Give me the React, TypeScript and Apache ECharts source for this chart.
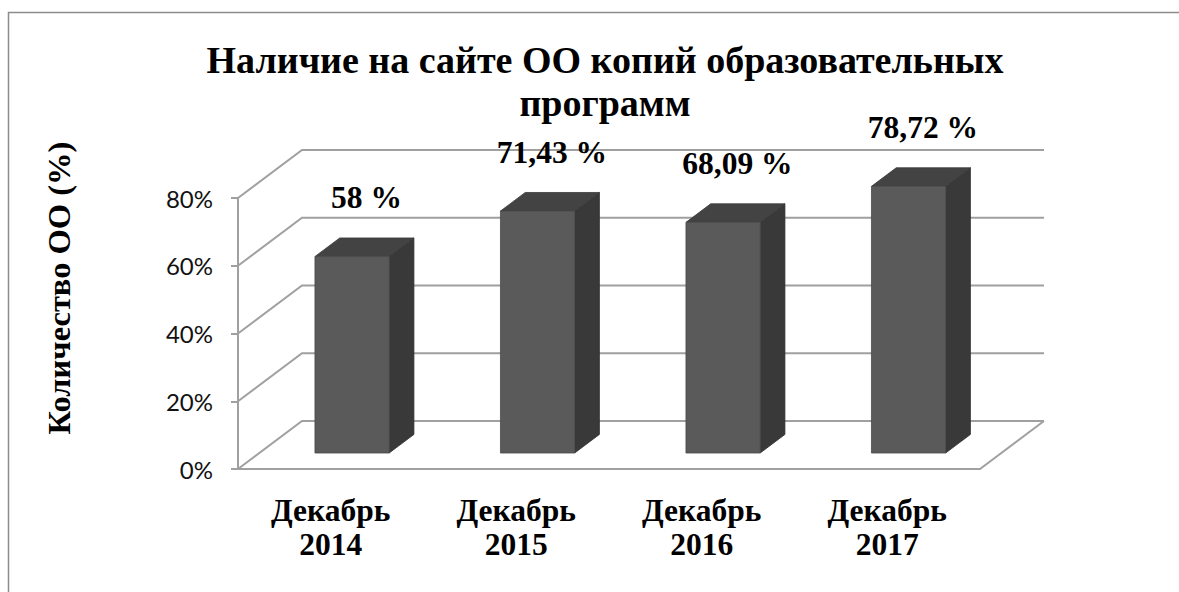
import React, { useEffect, useRef } from "react";
import * as echarts from "echarts";

const categories = ["Декабрь\n2014", "Декабрь\n2015", "Декабрь\n2016", "Декабрь\n2017"];
const values = [58, 71.43, 68.09, 78.72];
const yTicks = [0, 20, 40, 60, 80];
const titleText = "Наличие на сайте ОО копий образовательных\nпрограмм";
const yAxisTitle = "Количество ОО (%)";

const SERIF = '"Liberation Serif", "Times New Roman", serif';
const GRID_COLOR = "#a0a0a0";
const DEPTH_X = 64;
const DEPTH_Y = -48;
const BAR_D1 = 0.333;
const BAR_D2 = 0.72;
const BAR_W = 0.4;

function fmt(v: number) {
  return String(v).replace(".", ",") + " %";
}

export default function App() {
  const ref = useRef<HTMLDivElement>(null);
  useEffect(() => {
    if (!ref.current) return;
    const chart = echarts.init(ref.current, null, { renderer: "svg" });
    const option: any = {
      animation: false,
      backgroundColor: "#ffffff",
      title: {
        text: titleText,
        left: 600,
        top: 33,
        textAlign: "center",
        textStyle: {
          fontFamily: SERIF,
          fontWeight: "bold",
          fontSize: 38,
          lineHeight: 43,
          color: "#000",
        },
      },
      graphic: [
        {
          type: "rect",
          shape: { x: 8.5, y: 12.5, width: 1300, height: 700 },
          style: { fill: "none", stroke: "#8c8c8c", lineWidth: 1.5 },
          silent: true,
        },
        {
          type: "text",
          x: 59,
          y: 288,
          rotation: Math.PI / 2,
          style: {
            text: yAxisTitle,
            font: `bold 32.5px ${SERIF}`,
            fill: "#000",
            align: "center",
            verticalAlign: "middle",
            textAlign: "center",
            textVerticalAlign: "middle",
          },
        },
      ],
      grid: { left: 238, top: 198, width: 742, height: 271 },
      xAxis: {
        type: "category",
        data: categories,
        axisLine: { lineStyle: { color: GRID_COLOR, width: 2 } },
        axisTick: { length: 8, lineStyle: { color: GRID_COLOR, width: 2 } },
        axisLabel: {
          fontFamily: SERIF,
          fontWeight: "bold",
          fontSize: 31.5,
          lineHeight: 34,
          color: "#000",
          margin: 24,
        },
      },
      yAxis: {
        type: "value",
        min: 0,
        max: 80,
        interval: 20,
        axisLine: { show: true, lineStyle: { color: GRID_COLOR, width: 2 } },
        axisTick: { show: true, length: 7, lineStyle: { color: GRID_COLOR, width: 2 } },
        splitLine: { show: false },
        axisLabel: {
          formatter: "{value}%",
          fontFamily: "Lato, 'Open Sans', sans-serif",
          fontSize: 24,
          color: "#111",
          margin: 25,
        },
      },
      series: [
        {
          type: "custom",
          name: "walls",
          z: 1,
          clip: false,
          silent: true,
          data: yTicks.map((v) => [0, v]),
          renderItem: (params: any, api: any) => {
            const v = api.value(1);
            const cs = params.coordSys;
            const y = api.coord([0, v])[1];
            const left = cs.x;
            const right = cs.x + cs.width;
            const children: any[] = [
              {
                type: "polyline",
                shape: {
                  points: [
                    [left, y],
                    [left + DEPTH_X, y + DEPTH_Y],
                    [right + DEPTH_X, y + DEPTH_Y],
                  ],
                },
                style: { stroke: GRID_COLOR, lineWidth: 2, fill: "none" },
              },
            ];
            if (v === 0) {
              children.push({
                type: "line",
                shape: { x1: right, y1: y, x2: right + DEPTH_X, y2: y + DEPTH_Y },
                style: { stroke: GRID_COLOR, lineWidth: 2 },
              });
            }
            return { type: "group", children };
          },
        },
        {
          type: "custom",
          name: "bars",
          z: 2,
          clip: false,
          data: values.map((v, i) => [i, v]),
          renderItem: (params: any, api: any) => {
            const i = api.value(0);
            const v = api.value(1);
            const top = api.coord([i, v]);
            const base = api.coord([i, 0]);
            const band = api.size([1, 0])[0];
            const w = band * BAR_W;
            const ox = DEPTH_X * BAR_D1;
            const oy = DEPTH_Y * BAR_D1;
            const ddx = DEPTH_X * (BAR_D2 - BAR_D1);
            const ddy = DEPTH_Y * (BAR_D2 - BAR_D1);
            const x0 = top[0] - w / 2 + ox;
            const x1 = x0 + w;
            const yt = top[1] + oy;
            const yb = base[1] + oy;
            return {
              type: "group",
              children: [
                {
                  type: "polygon",
                  shape: { points: [[x1, yt], [x1 + ddx, yt + ddy], [x1 + ddx, yb + ddy], [x1, yb]] },
                  style: { fill: "#393939", stroke: "#333333", lineWidth: 0.8 },
                },
                {
                  type: "polygon",
                  shape: { points: [[x0, yt], [x1, yt], [x1 + ddx, yt + ddy], [x0 + ddx, yt + ddy]] },
                  style: { fill: "#434343", stroke: "#3a3a3a", lineWidth: 0.8 },
                },
                {
                  type: "rect",
                  shape: { x: x0, y: yt, width: w, height: yb - yt },
                  style: { fill: "#5a5a5a", stroke: "#4a4a4a", lineWidth: 0.8 },
                },
                {
                  type: "text",
                  x: x0 + w / 2 + ddx / 2 + 2,
                  y: yt + ddy - 40,
                  style: {
                    text: fmt(v),
                    font: `bold 31.5px ${SERIF}`,
                    fill: "#000",
                    align: "center",
                    verticalAlign: "middle",
                    textAlign: "center",
                    textVerticalAlign: "middle",
                  },
                },
              ],
            };
          },
        },
      ],
    };
    chart.setOption(option);
    return () => chart.dispose();
  }, []);
  return (
    <div
      ref={ref}
      style={{ position: "fixed", left: 0, top: 0, width: 1179, height: 592 }}
    />
  );
}
